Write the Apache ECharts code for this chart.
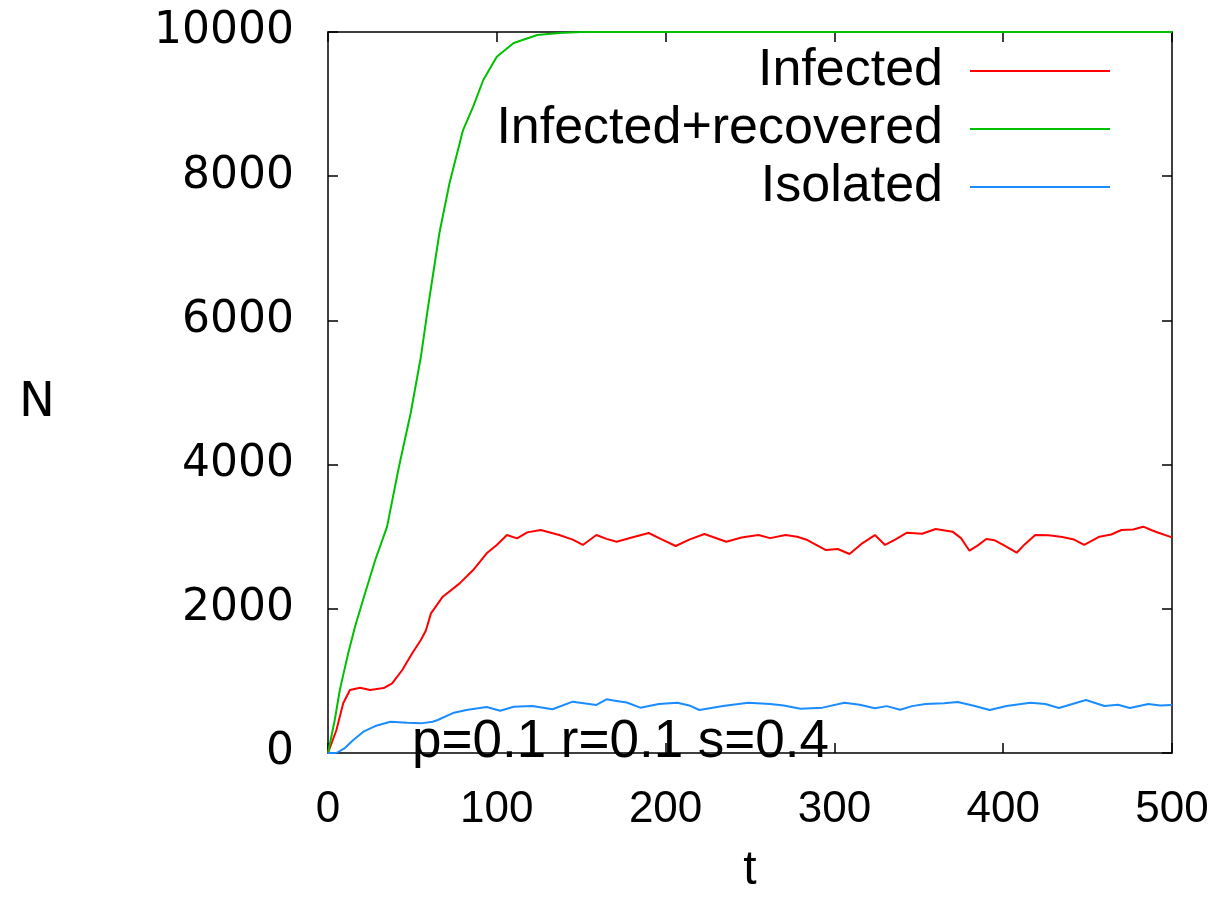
<!DOCTYPE html>
<html>
<head>
<meta charset="utf-8">
<script src="https://cdn.jsdelivr.net/npm/echarts@6/dist/echarts.min.js"></script>
<style>
  html, body { margin: 0; padding: 0; background: #fff; }
  #chart { width: 1225px; height: 916px; }
</style>
</head>
<body>
<div id="chart"></div>
<script>
const chart = echarts.init(document.getElementById('chart'));

// Infected (red)
const tInf = [0, 5, 9, 13, 19, 25, 33, 38, 44, 50, 55, 58, 61, 68, 78, 86, 94, 100, 106, 112, 118, 126, 137, 145, 151, 159, 165, 171, 180, 190, 198, 206, 214, 223, 236, 245, 255, 262, 271, 278, 284, 295, 302, 309, 316, 324, 330, 336, 343, 352, 360, 370, 375, 380, 385, 390, 395, 400, 408, 413, 419, 427, 435, 442, 448, 457, 464, 470, 477, 483, 488, 492, 500];
const nInf = [0, 319, 689, 874, 906, 874, 901, 967, 1151, 1387, 1567, 1700, 1937, 2168, 2353, 2538, 2770, 2885, 3023, 2977, 3060, 3093, 3023, 2960, 2885, 3023, 2970, 2930, 2990, 3051, 2960, 2871, 2960, 3037, 2930, 2990, 3023, 2980, 3023, 3000, 2954, 2815, 2830, 2760, 2900, 3023, 2885, 2960, 3055, 3040, 3107, 3070, 2980, 2806, 2880, 2968, 2950, 2885, 2778, 2900, 3023, 3020, 2996, 2960, 2885, 3000, 3030, 3093, 3100, 3139, 3090, 3055, 2990];

// Infected+recovered (green)
const tRec = [0, 4, 7, 9, 12, 16, 22, 28, 35, 42, 49, 55, 59, 66, 72, 80, 86, 92, 100, 110, 124, 137, 150, 500];
const nRec = [0, 458, 874, 1080, 1387, 1750, 2220, 2677, 3139, 3967, 4716, 5492, 6144, 7212, 7906, 8640, 8964, 9334, 9657, 9847, 9958, 9986, 10000, 10000];

// Isolated (blue)
const tIso = [0, 5, 10, 15, 21, 28, 37, 47, 55, 62, 65, 74, 82, 94, 102, 110, 121, 133, 145, 159, 165, 170, 177, 185, 196, 207, 214, 220, 234, 249, 262, 270, 280, 293, 306, 315, 324, 331, 339, 346, 354, 365, 373, 382, 392, 402, 416, 425, 433, 441, 449, 460, 468, 475, 486, 493, 500];
const nIso = [0, 0, 69, 180, 296, 374, 434, 420, 411, 434, 458, 554, 596, 638, 587, 642, 652, 606, 712, 666, 744, 726, 700, 629, 680, 698, 660, 596, 652, 698, 680, 660, 615, 629, 698, 670, 620, 650, 601, 650, 680, 690, 707, 660, 596, 652, 698, 680, 624, 680, 735, 652, 670, 624, 680, 660, 666];

const seriesNames = ['Infected', 'Infected+recovered', 'Isolated'];
const colors = ['#ff0000', '#00c000', '#1a8cff'];
const xTicks = { min: 0, max: 500, interval: 100 };
const yTicks = { min: 0, max: 10000, interval: 2000 };

const zip = (xs, ys) => xs.map((x, i) => [x, ys[i]]);

const font = "'Liberation Sans', Arial, sans-serif";
const wideFont = "'DejaVu Sans', sans-serif";

const tickInside = { show: true, inside: true, length: 10, lineStyle: { color: '#000', width: 1.5 } };
const frameLine = { show: true, onZero: false, lineStyle: { color: '#000', width: 1.5 } };

const option = {
  animation: false,
  grid: { left: 328, right: 53, top: 32, bottom: 163 },
  legend: {
    orient: 'vertical',
    right: 110,
    top: 40,
    align: 'right',
    icon: 'rect',
    itemWidth: 140,
    itemHeight: 2,
    itemGap: 6,
    textStyle: { fontFamily: font, fontSize: 52, lineHeight: 52, color: '#000', padding: [0, 22, 0, 0] },
    data: seriesNames,
  },
  xAxis: [
    {
      type: 'value', ...xTicks,
      name: 't', nameLocation: 'middle', nameGap: 94,
      nameTextStyle: { fontFamily: font, fontSize: 48, color: '#000' },
      axisLine: frameLine, axisTick: tickInside, splitLine: { show: false },
      axisLabel: { fontFamily: font, fontSize: 44, color: '#000', margin: 35 },
    },
    {
      type: 'value', position: 'top', ...xTicks,
      axisLine: frameLine, axisTick: tickInside, splitLine: { show: false },
      axisLabel: { show: false },
    },
  ],
  yAxis: [
    {
      type: 'value', ...yTicks,
      name: 'N', nameLocation: 'middle', nameRotate: 0, nameGap: 273,
      nameTextStyle: { fontFamily: wideFont, fontSize: 48, color: '#000', verticalAlign: 'top', lineHeight: 22 },
      axisLine: frameLine, axisTick: tickInside, splitLine: { show: false },
      axisLabel: { fontFamily: wideFont, fontSize: 44, color: '#000', margin: 34, formatter: (v) => String(v) },
    },
    {
      type: 'value', position: 'right', ...yTicks,
      axisLine: frameLine, axisTick: tickInside, splitLine: { show: false },
      axisLabel: { show: false },
    },
  ],
  series: [
    { name: seriesNames[0], type: 'line', data: zip(tInf, nInf) },
    { name: seriesNames[1], type: 'line', data: zip(tRec, nRec) },
    { name: seriesNames[2], type: 'line', data: zip(tIso, nIso) },
  ].map((s, i) => ({
    ...s,
    symbol: 'none',
    color: colors[i],
    lineStyle: { color: colors[i], width: 2 },
    z: 3,
  })),
  graphic: [
    {
      type: 'text',
      left: 412,
      top: 716,
      z: 10,
      style: { text: 'p=0.1 r=0.1 s=0.4', fontFamily: font, fontSize: 53, fill: '#000' },
    },
  ],
};

chart.setOption(option);
</script>
</body>
</html>
